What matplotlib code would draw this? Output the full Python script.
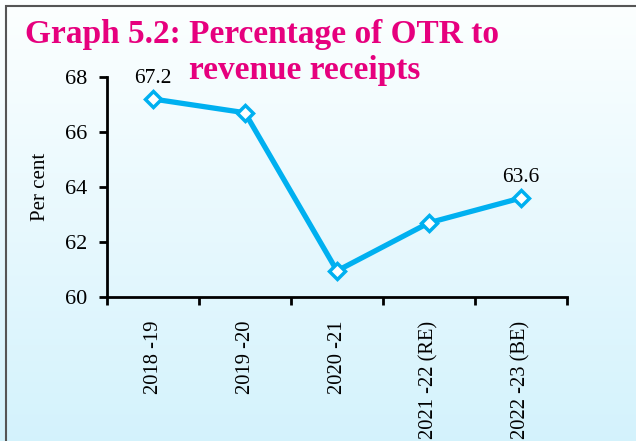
import numpy as np
import matplotlib.pyplot as plt
from matplotlib.patches import Rectangle

years = ['2018 -19', '2019 -20', '2020 -21', '2021 -22 (RE)', '2022 -23 (BE)']
otr_share = [67.2, 66.7, 60.95, 62.7, 63.6]
label_idx = [0, 4]

plt.rcParams['font.family'] = ['Liberation Serif', 'DejaVu Serif']

fig = plt.figure(figsize=(6.36, 4.41), dpi=100)

# light gradient background
bg = fig.add_axes([0, 0, 1, 1], zorder=-10)
grad = np.linspace(0, 1, 256).reshape(-1, 1)
top = np.array([0.99, 1.0, 1.0])
bot = np.array([0.83, 0.95, 0.99])
img = top + (bot - top) * grad[..., None]
bg.imshow(img, aspect='auto', extent=[0, 1, 0, 1], origin='upper')
bg.set_xlim(0, 1)
bg.set_ylim(0, 1)
bg.axis('off')
bg.add_patch(Rectangle((6 / 636, -0.05), 1.2, 1 - 6 / 441 + 0.05, fill=False,
                       edgecolor='#555555', linewidth=1.5, transform=bg.transAxes))

ax = fig.add_axes([107 / 636, 1 - 297 / 441, (567 - 107) / 636, (297 - 77) / 441])
ax.patch.set_alpha(0)
x = np.arange(len(years))
ax.plot(x, otr_share, color='#00B0F0', linewidth=3.8, marker='D', markersize=8,
        markerfacecolor='white', markeredgecolor='#00B0F0', markeredgewidth=2.5,
        clip_on=False)
for i in label_idx:
    ax.text(x[i], otr_share[i] + 0.4, f'{otr_share[i]:.1f}', ha='center', va='bottom',
            fontsize=15.5)

ax.set_xlim(-0.5, len(years) - 0.5)
ax.set_ylim(60, 68)
ax.set_yticks([60, 62, 64, 66, 68])
ax.set_xticks(np.arange(-0.5, len(years), 1.0))
ax.set_xticklabels([])
ax.set_xticks(x, minor=True)
ax.set_xticklabels(years, minor=True, rotation=90, fontsize=14.8)
ax.tick_params(axis='x', which='minor', length=0, pad=17)
ax.tick_params(axis='x', which='major', length=6, width=2, direction='out')
ax.tick_params(axis='y', length=6, width=2, direction='out', labelsize=16, pad=8)
ax.set_ylabel('Per cent', fontsize=15, labelpad=11)
for s in ['top', 'right']:
    ax.spines[s].set_visible(False)
for s in ['left', 'bottom']:
    ax.spines[s].set_linewidth(2)

fig.text(25 / 636, 1 - 35 / 441, 'Graph 5.2: Percentage of OTR to', color='#E6007E',
         fontsize=24, fontweight='bold', ha='left', va='center')
fig.text(305 / 636, 1 - 70 / 441, 'revenue receipts', color='#E6007E',
         fontsize=24, fontweight='bold', ha='center', va='center')

fig.savefig('out.png', dpi=100)
